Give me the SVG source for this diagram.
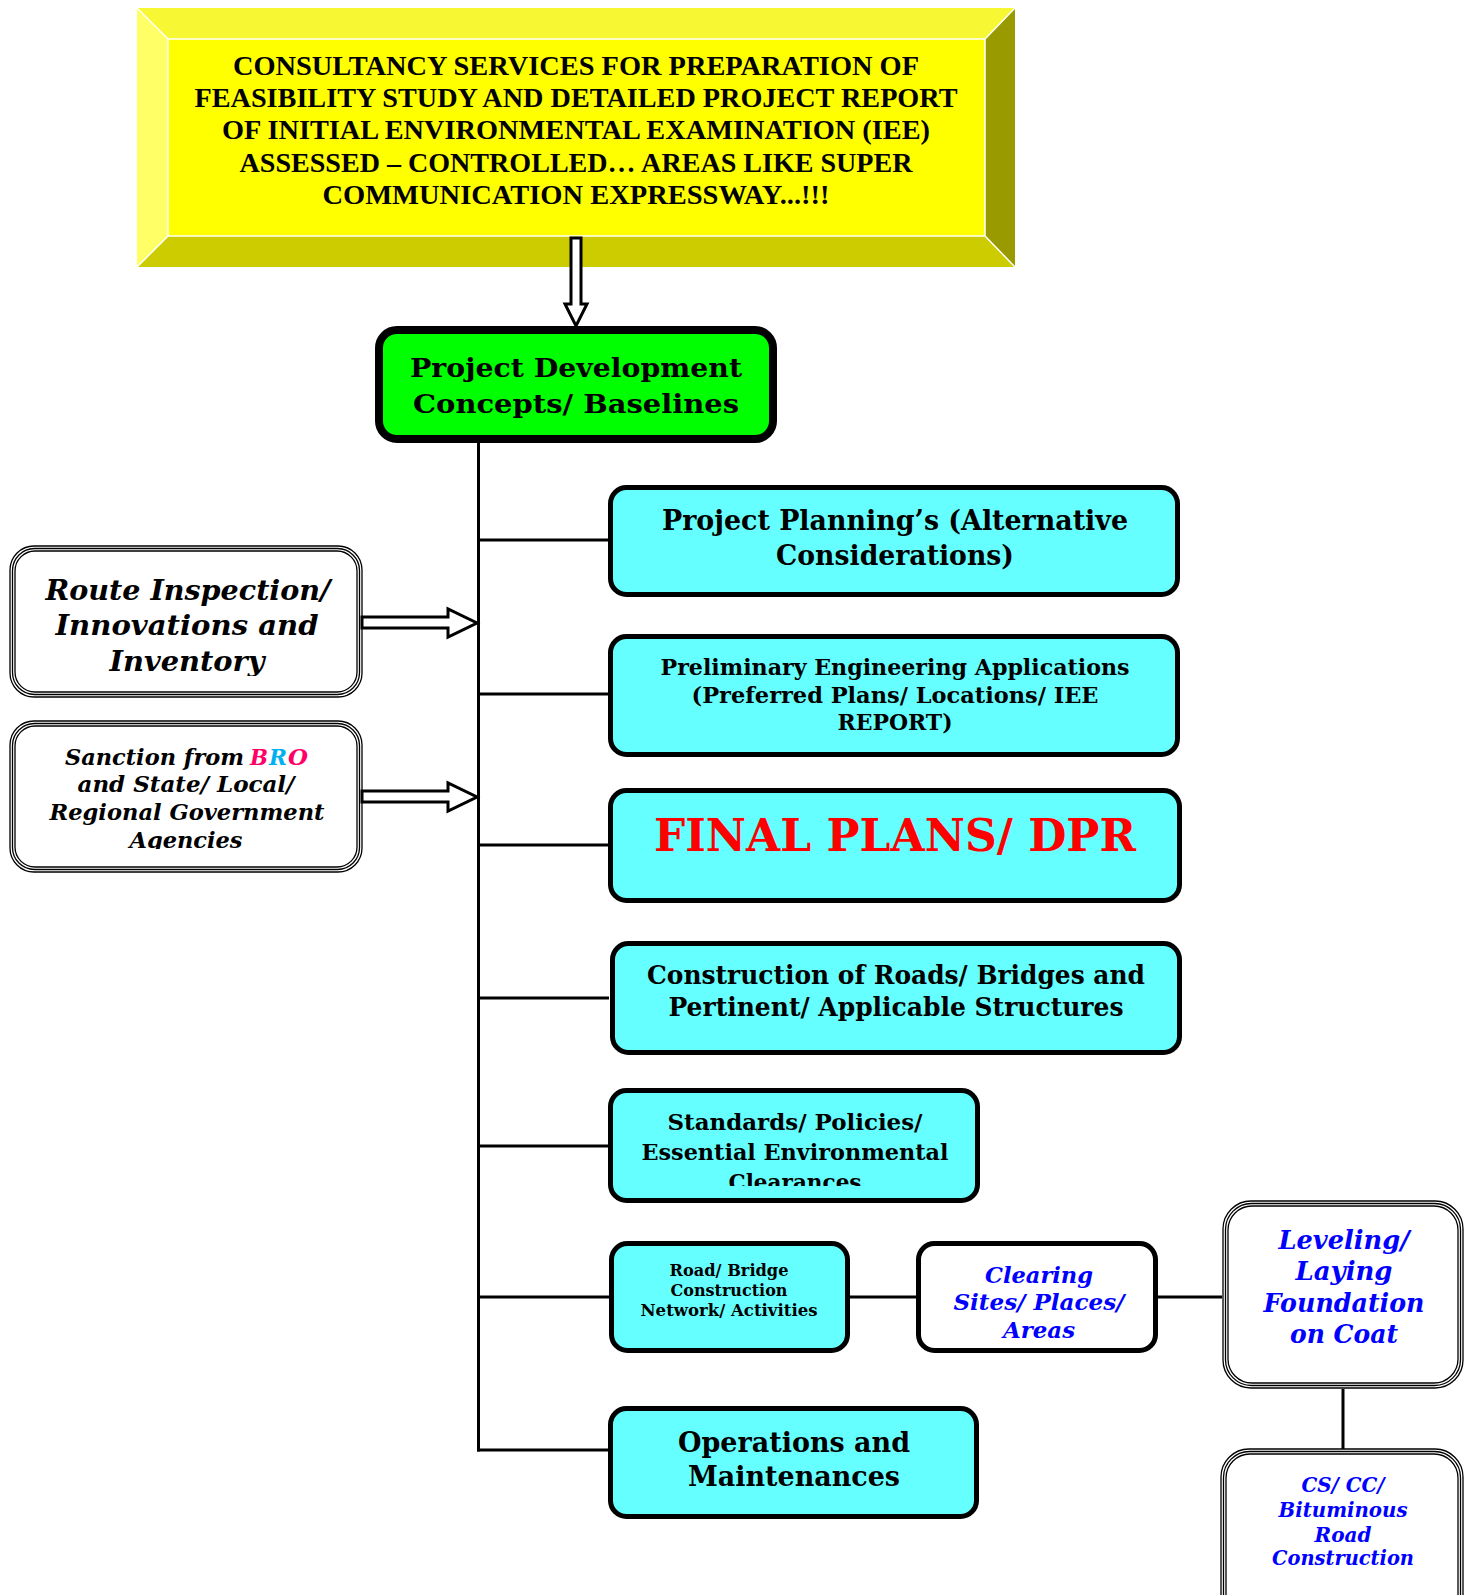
<svg xmlns="http://www.w3.org/2000/svg" width="1469" height="1595" viewBox="0 0 1469 1595">
<style>
.t{font-family:"DejaVu Serif","Liberation Serif",serif;font-weight:bold;text-anchor:middle;fill:#000}
.ti{font-family:"DejaVu Serif","Liberation Serif",serif;font-weight:bold;font-style:italic;text-anchor:middle;fill:#000}
.blue{fill:#0000FF}
.hd{font-family:"Liberation Serif","Times New Roman",serif;font-weight:bold;font-size:28px;text-anchor:middle;fill:#000}
.cyan{fill:#66FFFF;stroke:#000;stroke-width:5}
.wbox{fill:#FFFFFF;stroke:#000;stroke-width:5}
.dbl{fill:none;stroke:#000;stroke-width:1.3}
.ln{stroke:#000;stroke-width:3;fill:none}
.harrow{fill:#FFFFFF;stroke:#000;stroke-width:3;stroke-linejoin:miter}
</style>
<defs>
<clipPath id="clipRoute"><rect x="0" y="540" width="370" height="136"/></clipPath>
<clipPath id="clipSanc"><rect x="0" y="720" width="370" height="129"/></clipPath>
<clipPath id="clipStd"><rect x="600" y="1088" width="390" height="98"/></clipPath>
</defs>
<rect width="1469" height="1595" fill="#FFFFFF"/>

<g id="header">
<polygon points="137,8 1015,8 985,39 168,39" fill="#F7F733"/>
<polygon points="137,8 168,39 168,236 137,267" fill="#FFFF66"/>
<polygon points="137,267 168,236 985,236 1015,267" fill="#CCCC00"/>
<polygon points="1015,8 1015,267 985,236 985,39" fill="#999900"/>
<rect x="168" y="39" width="817" height="197" fill="#FFFF00"/>
<g stroke="#FFFFFF" stroke-width="1.5" fill="none">
<rect x="168" y="39" width="817" height="197"/>
<line x1="137" y1="8" x2="168" y2="39"/>
<line x1="1015" y1="8" x2="985" y2="39"/>
<line x1="137" y1="267" x2="168" y2="236"/>
<line x1="1015" y1="267" x2="985" y2="236"/>
</g>
<text class="hd" x="576" y="75" textLength="686" lengthAdjust="spacingAndGlyphs">CONSULTANCY SERVICES FOR PREPARATION OF</text>
<text class="hd" x="576" y="107" textLength="763" lengthAdjust="spacingAndGlyphs">FEASIBILITY STUDY AND DETAILED PROJECT REPORT</text>
<text class="hd" x="576" y="139" textLength="708" lengthAdjust="spacingAndGlyphs">OF INITIAL ENVIRONMENTAL EXAMINATION (IEE)</text>
<text class="hd" x="576" y="172" textLength="673" lengthAdjust="spacingAndGlyphs">ASSESSED – CONTROLLED… AREAS LIKE SUPER</text>
<text class="hd" x="576" y="204" textLength="507" lengthAdjust="spacingAndGlyphs">COMMUNICATION EXPRESSWAY...!!!</text>
</g>

<g id="connectors">
<polygon class="harrow" points="571,238 581,238 581,304 587,304 576,326 565,304 571,304"/>
<line class="ln" x1="478.5" y1="440" x2="478.5" y2="1451.5"/>
<line class="ln" x1="477" y1="540" x2="609" y2="540"/>
<line class="ln" x1="477" y1="694" x2="609" y2="694"/>
<line class="ln" x1="477" y1="845" x2="609" y2="845"/>
<line class="ln" x1="477" y1="998" x2="609" y2="998"/>
<line class="ln" x1="477" y1="1146" x2="609" y2="1146"/>
<line class="ln" x1="477" y1="1297" x2="609" y2="1297"/>
<line class="ln" x1="477" y1="1450" x2="609" y2="1450"/>
<line class="ln" x1="850" y1="1297" x2="916" y2="1297"/>
<line class="ln" x1="1158" y1="1297" x2="1223" y2="1297"/>
<line class="ln" x1="1343" y1="1388" x2="1343" y2="1449"/>
<polygon class="harrow" points="362,617 448,617 448,609 477,623 448,637 448,628 362,628"/>
<polygon class="harrow" points="362,791 448,791 448,783 477,797 448,811 448,802 362,802"/>
</g>

<g id="node-pdc">
<rect x="379" y="330" width="394" height="109" rx="18" fill="#00FF00" stroke="#000" stroke-width="8"/>
<text class="t" x="576" y="377" font-size="26.5" textLength="332" lengthAdjust="spacingAndGlyphs">Project Development</text>
<text class="t" x="576" y="413" font-size="26.5" textLength="326" lengthAdjust="spacingAndGlyphs">Concepts/ Baselines</text>
</g>

<g id="node-route">
<rect class="dbl" x="10" y="546" width="352" height="151" rx="24"/>
<rect class="dbl" x="12.5" y="548.5" width="347" height="146" rx="22"/>
<rect class="dbl" x="15" y="551" width="342" height="141" rx="20"/>
<g clip-path="url(#clipRoute)">
<text class="ti" x="188" y="600" font-size="28.5" textLength="285" lengthAdjust="spacingAndGlyphs">Route Inspection/</text>
<text class="ti" x="187" y="635" font-size="28.5" textLength="263" lengthAdjust="spacingAndGlyphs">Innovations and</text>
<text class="ti" x="187" y="671" font-size="28.5" textLength="155" lengthAdjust="spacingAndGlyphs">Inventory</text>
</g>
</g>

<g id="node-sanction">
<rect class="dbl" x="10" y="721" width="352" height="151" rx="24"/>
<rect class="dbl" x="12.5" y="723.5" width="347" height="146" rx="22"/>
<rect class="dbl" x="15" y="726" width="342" height="141" rx="20"/>
<g clip-path="url(#clipSanc)">
<text class="ti" x="65" y="765" font-size="23" style="text-anchor:start" textLength="179" lengthAdjust="spacingAndGlyphs">Sanction from</text>
<text class="ti" x="250" y="765" font-size="23" style="text-anchor:start;fill:#FF0066" textLength="18" lengthAdjust="spacingAndGlyphs">B</text>
<text class="ti" x="269" y="765" font-size="23" style="text-anchor:start;fill:#00B0F0" textLength="18" lengthAdjust="spacingAndGlyphs">R</text>
<text class="ti" x="288" y="765" font-size="23" style="text-anchor:start;fill:#FF0066" textLength="20" lengthAdjust="spacingAndGlyphs">O</text>
<text class="ti" x="186" y="792" font-size="23" textLength="217" lengthAdjust="spacingAndGlyphs">and State/ Local/</text>
<text class="ti" x="187" y="820" font-size="23" textLength="275" lengthAdjust="spacingAndGlyphs">Regional Government</text>
<text class="ti" x="186" y="848" font-size="23" textLength="113" lengthAdjust="spacingAndGlyphs">Agencies</text>
</g>
</g>

<g id="node-planning">
<rect class="cyan" x="610.5" y="487.5" width="567" height="107" rx="16"/>
<text class="t" x="895" y="530" font-size="27" textLength="466" lengthAdjust="spacingAndGlyphs">Project Planning’s (Alternative</text>
<text class="t" x="895" y="565" font-size="27" textLength="238" lengthAdjust="spacingAndGlyphs">Considerations)</text>
</g>

<g id="node-prelim">
<rect class="cyan" x="610.5" y="636.5" width="567" height="118" rx="16"/>
<text class="t" x="895" y="675" font-size="22" textLength="469" lengthAdjust="spacingAndGlyphs">Preliminary Engineering Applications</text>
<text class="t" x="895" y="703" font-size="22" textLength="407" lengthAdjust="spacingAndGlyphs">(Preferred Plans/ Locations/ IEE</text>
<text class="t" x="895" y="730" font-size="22" textLength="115" lengthAdjust="spacingAndGlyphs">REPORT)</text>
</g>

<g id="node-final">
<rect class="cyan" x="610.5" y="790.5" width="569" height="110" rx="16"/>
<text class="t" x="895" y="851" font-size="44" style="fill:#FF0000" textLength="482" lengthAdjust="spacingAndGlyphs">FINAL PLANS/ DPR</text>
</g>

<g id="node-construction">
<rect class="cyan" x="612.5" y="943.5" width="567" height="109" rx="16"/>
<text class="t" x="896" y="984" font-size="26" textLength="498" lengthAdjust="spacingAndGlyphs">Construction of Roads/ Bridges and</text>
<text class="t" x="896" y="1016" font-size="26" textLength="455" lengthAdjust="spacingAndGlyphs">Pertinent/ Applicable Structures</text>
</g>

<g id="node-standards">
<rect class="cyan" x="610.5" y="1090.5" width="367" height="110" rx="16"/>
<g clip-path="url(#clipStd)">
<text class="t" x="795" y="1130" font-size="23" textLength="255" lengthAdjust="spacingAndGlyphs">Standards/ Policies/</text>
<text class="t" x="795" y="1160" font-size="23" textLength="307" lengthAdjust="spacingAndGlyphs">Essential Environmental</text>
<text class="t" x="795" y="1190" font-size="23" textLength="133" lengthAdjust="spacingAndGlyphs">Clearances</text>
</g>
</g>

<g id="node-roadbridge">
<rect class="cyan" x="611.5" y="1243.5" width="236" height="107" rx="16"/>
<text class="t" x="729" y="1276" font-size="16" textLength="119" lengthAdjust="spacingAndGlyphs">Road/ Bridge</text>
<text class="t" x="729" y="1296" font-size="16" textLength="117" lengthAdjust="spacingAndGlyphs">Construction</text>
<text class="t" x="729" y="1316" font-size="16" textLength="177" lengthAdjust="spacingAndGlyphs">Network/ Activities</text>
</g>

<g id="node-clearing">
<rect class="wbox" x="918.5" y="1243.5" width="237" height="107" rx="16"/>
<text class="ti blue" x="1039" y="1283" font-size="23" textLength="108" lengthAdjust="spacingAndGlyphs">Clearing</text>
<text class="ti blue" x="1039" y="1310" font-size="23" textLength="171" lengthAdjust="spacingAndGlyphs">Sites/ Places/</text>
<text class="ti blue" x="1039" y="1338" font-size="23" textLength="72" lengthAdjust="spacingAndGlyphs">Areas</text>
</g>

<g id="node-leveling">
<rect x="1222" y="1200" width="242" height="189" rx="28" fill="#FFFFFF"/>
<rect class="dbl" x="1223" y="1201" width="240" height="187" rx="28"/>
<rect class="dbl" x="1225.5" y="1203.5" width="235" height="182" rx="26"/>
<rect class="dbl" x="1228" y="1206" width="230" height="177" rx="24"/>
<text class="ti blue" x="1344" y="1249" font-size="26" textLength="131" lengthAdjust="spacingAndGlyphs">Leveling/</text>
<text class="ti blue" x="1344" y="1280" font-size="26" textLength="97" lengthAdjust="spacingAndGlyphs">Laying</text>
<text class="ti blue" x="1344" y="1312" font-size="26" textLength="161" lengthAdjust="spacingAndGlyphs">Foundation</text>
<text class="ti blue" x="1344" y="1343" font-size="26" textLength="108" lengthAdjust="spacingAndGlyphs">on Coat</text>
</g>

<g id="node-cscc">
<rect class="dbl" x="1221" y="1449" width="242" height="180" rx="28"/>
<rect class="dbl" x="1223.5" y="1451.5" width="237" height="175" rx="26"/>
<rect class="dbl" x="1226" y="1454" width="232" height="170" rx="24"/>
<text class="ti blue" x="1343" y="1492" font-size="20" textLength="83" lengthAdjust="spacingAndGlyphs">CS/ CC/</text>
<text class="ti blue" x="1343" y="1517" font-size="20" textLength="129" lengthAdjust="spacingAndGlyphs">Bituminous</text>
<text class="ti blue" x="1343" y="1542" font-size="20" textLength="57" lengthAdjust="spacingAndGlyphs">Road</text>
<text class="ti blue" x="1343" y="1565" font-size="20" textLength="142" lengthAdjust="spacingAndGlyphs">Construction</text>
</g>

<g id="node-operations">
<rect class="cyan" x="610.5" y="1408.5" width="366" height="108" rx="16"/>
<text class="t" x="794" y="1452" font-size="28" textLength="232" lengthAdjust="spacingAndGlyphs">Operations and</text>
<text class="t" x="794" y="1486" font-size="28" textLength="212" lengthAdjust="spacingAndGlyphs">Maintenances</text>
</g>
</svg>
